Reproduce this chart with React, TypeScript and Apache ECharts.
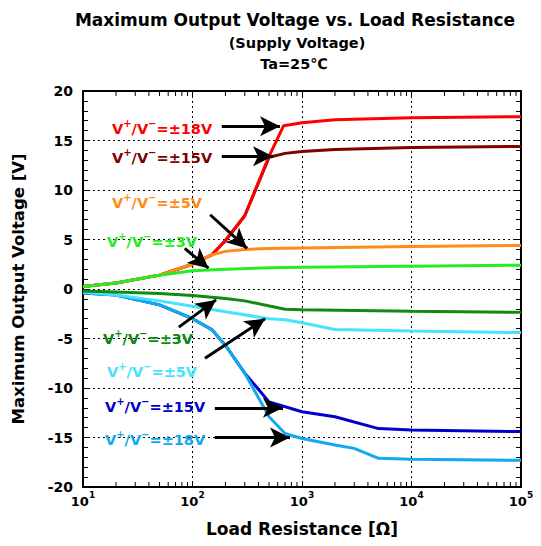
import React, { useEffect, useRef } from 'react';
import * as echarts from 'echarts';

// ---------- data ----------
const X_MIN = 10;
const X_MAX = 100000;
const Y_MIN = -20;
const Y_MAX = 20;
const Y_INTERVAL = 5;
const MINOR_MULTIPLIERS = [2, 3, 4, 5, 6, 7, 8, 9];
const MINOR_DECADES = [10, 100, 1000, 10000];

const POS_18V = [[10, 0.25], [20, 0.6], [50, 1.4], [100, 2.5], [150, 3.45], [200, 4.9], [300, 7.4], [500, 13.4], [680, 16.5], [1000, 16.8], [2000, 17.1], [10000, 17.3], [100000, 17.4]];
const POS_15V = [[10, 0.25], [20, 0.6], [50, 1.4], [100, 2.5], [150, 3.45], [200, 4.9], [300, 7.4], [500, 13.3], [700, 13.7], [1000, 13.9], [2000, 14.1], [10000, 14.3], [100000, 14.4]];
const POS_5V = [[10, 0.25], [20, 0.6], [50, 1.4], [100, 2.5], [150, 3.45], [200, 3.8], [300, 4.0], [500, 4.1], [1000, 4.15], [10000, 4.3], [100000, 4.4]];
const POS_3V = [[10, 0.25], [20, 0.6], [50, 1.4], [100, 1.85], [200, 2.0], [500, 2.15], [1000, 2.2], [10000, 2.3], [100000, 2.4]];
const NEG_3V = [[10, -0.2], [20, -0.3], [50, -0.45], [100, -0.65], [200, -0.95], [300, -1.2], [700, -2.05], [1000, -2.1], [10000, -2.25], [100000, -2.35]];
const NEG_5V = [[10, -0.3], [20, -0.6], [50, -1.2], [100, -1.75], [200, -2.3], [500, -3.0], [700, -3.1], [1000, -3.4], [2000, -4.1], [10000, -4.25], [100000, -4.4]];
const NEG_15V = [[10, -0.4], [20, -0.6], [50, -1.6], [100, -3.0], [150, -4.1], [200, -5.7], [300, -8.5], [500, -11.4], [1000, -12.4], [2000, -12.9], [5000, -14.1], [10000, -14.25], [100000, -14.4]];
const NEG_18V = [[10, -0.4], [20, -0.6], [50, -1.6], [100, -3.0], [150, -4.1], [200, -5.7], [300, -8.5], [500, -12.9], [700, -14.6], [1000, -15.1], [2000, -15.75], [3000, -16.1], [5000, -17.1], [10000, -17.2], [100000, -17.3]];

// arrows: [start, end] in data coordinates (R [ohm], V)
const ARROW_18V = [[185, 16.45], [630, 16.45]];
const ARROW_15V = [[185, 13.4], [543, 13.4]];
const ARROW_5V = [[145, 7.5], [315, 4.1]];
const ARROW_3V = [[85, 4.1], [140, 2.1]];
const ARROW_N3V = [[75, -3.85], [164, -1.1]];
const ARROW_N5V = [[130, -7.0], [460, -3.0]];
const ARROW_N15V = [[160, -12.0], [670, -12.0]];
const ARROW_N18V = [[160, -15.0], [777, -15.0]];

const LABEL_VALUES = ['±18V', '±15V', '±5V', '±3V', '±3V', '±5V', '±15V', '±18V'];

const TITLE = 'Maximum Output Voltage vs. Load Resistance';
const SUBTITLE_1 = '(Supply Voltage)';
const SUBTITLE_2 = 'Ta=25℃';
const X_NAME = 'Load Resistance [Ω]';
const Y_NAME = 'Maximum Output Voltage [V]';

// ---------- styling ----------
const FONT = '"DejaVu Sans", sans-serif';
const GRID = { left: 83, top: 91, right: 20, bottom: 59 };

const SERIES_DEFS = [
  { key: 'p15', data: POS_15V, arrow: ARROW_15V, color: '#800000', label: LABEL_VALUES[1], lx: 112, ly: 156 },
  { key: 'p18', data: POS_18V, arrow: ARROW_18V, color: '#ff0000', label: LABEL_VALUES[0], lx: 112, ly: 127 },
  { key: 'p5', data: POS_5V, arrow: ARROW_5V, color: '#ff8c1a', label: LABEL_VALUES[2], lx: 112, ly: 201 },
  { key: 'p3', data: POS_3V, arrow: ARROW_3V, color: '#22ee22', label: LABEL_VALUES[3], lx: 107, ly: 240 },
  { key: 'n15', data: NEG_15V, arrow: ARROW_N15V, color: '#0000cc', label: LABEL_VALUES[6], lx: 105, ly: 405 },
  { key: 'n18', data: NEG_18V, arrow: ARROW_N18V, color: '#11aaee', label: LABEL_VALUES[7], lx: 105, ly: 438 },
  { key: 'n5', data: NEG_5V, arrow: ARROW_N5V, color: '#44e4ff', label: LABEL_VALUES[5], lx: 107, ly: 370 },
  { key: 'n3', data: NEG_3V, arrow: ARROW_N3V, color: '#108a10', label: LABEL_VALUES[4], lx: 103, ly: 337 },
];

const MINOR_TICKS: number[] = [];
MINOR_DECADES.forEach((d) => MINOR_MULTIPLIERS.forEach((m) => MINOR_TICKS.push(d * m)));

function labelRich(color: string) {
  return {
    a: { fontSize: 14.5, fontWeight: 'bold', fontFamily: FONT, fill: color, lineHeight: 18, verticalAlign: 'bottom' },
    s: { fontSize: 10, fontWeight: 'bold', fontFamily: FONT, fill: color, lineHeight: 9, verticalAlign: 'top' },
  };
}

export default function App() {
  const ref = useRef<HTMLDivElement>(null);

  useEffect(() => {
    if (!ref.current) return;
    const chart = echarts.init(ref.current, undefined, { renderer: 'svg' });

    const axisLineStyle = { color: '#000', width: 2 };
    const gridLine = { show: true, lineStyle: { color: '#000', width: 1, type: [2, 3] as any } };

    const lineSeries = SERIES_DEFS.map((s) => ({
      type: 'line',
      name: s.key,
      data: s.data,
      xAxisIndex: 0,
      yAxisIndex: 0,
      showSymbol: false,
      symbol: 'none',
      lineStyle: { color: s.color, width: 3 },
      itemStyle: { color: s.color },
      emphasis: { disabled: true },
      z: 3,
      markLine: {
        silent: true,
        symbol: ['none', 'arrow'],
        symbolSize: [15, 20],
        label: { show: false },
        emphasis: { disabled: true },
        lineStyle: { color: '#000', width: 3, type: 'solid' },
        z: 5,
        data: [[{ coord: s.arrow[0] }, { coord: s.arrow[1] }]],
      },
    }));

    const minorTickSeries = {
      type: 'custom',
      xAxisIndex: 0,
      yAxisIndex: 0,
      silent: true,
      clip: false,
      z: 6,
      data: MINOR_TICKS.map((v) => [v, 0]),
      encode: { x: 0, y: 1 },
      renderItem: (params: any, api: any) => {
        const r = api.value(0);
        const b = api.coord([r, Y_MIN]);
        const t = api.coord([r, Y_MAX]);
        return {
          type: 'group',
          children: [
            { type: 'line', shape: { x1: b[0], y1: b[1], x2: b[0], y2: b[1] - 5 }, style: { stroke: '#000', lineWidth: 1 } },
            { type: 'line', shape: { x1: t[0], y1: t[1], x2: t[0], y2: t[1] + 5 }, style: { stroke: '#000', lineWidth: 1 } },
          ],
        };
      },
    };

    const labelGraphics = SERIES_DEFS.map((s) => ({
      type: 'text',
      x: s.lx,
      y: s.ly,
      z: 10,
      style: {
        text: `{a|V}{s|+}{a|/V}{s|−}{a|=${s.label}}`,
        verticalAlign: 'middle',
        align: 'left',
        fill: s.color,
        rich: labelRich(s.color),
      },
    }));

    const titleGraphics = [
      { type: 'text', x: 295, y: 20, style: { text: TITLE, align: 'center', verticalAlign: 'middle', fill: '#000', fontSize: 17, fontWeight: 'bold', fontFamily: FONT } },
      { type: 'text', x: 297, y: 43, style: { text: SUBTITLE_1, align: 'center', verticalAlign: 'middle', fill: '#000', fontSize: 14.5, fontWeight: 'bold', fontFamily: FONT } },
      { type: 'text', x: 294, y: 64, style: { text: SUBTITLE_2, align: 'center', verticalAlign: 'middle', fill: '#000', fontSize: 14.5, fontWeight: 'bold', fontFamily: FONT } },
    ];

    chart.setOption({
      animation: false,
      backgroundColor: '#fff',
      grid: { ...GRID, containLabel: false },
      xAxis: [
        {
          type: 'log',
          logBase: 10,
          min: X_MIN,
          max: X_MAX,
          position: 'bottom',
          axisLine: { show: true, onZero: false, lineStyle: axisLineStyle },
          axisTick: { show: true, inside: true, length: 6, lineStyle: { color: '#000', width: 1 } },
          axisLabel: {
            margin: 3,
            formatter: (v: number) => `{b|10}{s|${Math.round(Math.log10(v))}}`,
            rich: {
              b: { fontSize: 13, fontWeight: 'bold', fontFamily: FONT, color: '#000', lineHeight: 18, verticalAlign: 'bottom' },
              s: { fontSize: 9, fontWeight: 'bold', fontFamily: FONT, color: '#000', lineHeight: 9, verticalAlign: 'top' },
            },
          },
          splitLine: gridLine,
          name: X_NAME,
          nameLocation: 'middle',
          nameGap: 33,
          nameTextStyle: { fontSize: 17, fontWeight: 'bold', fontFamily: FONT, color: '#000' },
        },
        {
          type: 'log',
          logBase: 10,
          min: X_MIN,
          max: X_MAX,
          position: 'top',
          axisLine: { show: true, onZero: false, lineStyle: axisLineStyle },
          axisTick: { show: true, inside: true, length: 6, lineStyle: { color: '#000', width: 1 } },
          axisLabel: { show: false },
          splitLine: { show: false },
        },
      ],
      yAxis: [
        {
          type: 'value',
          min: Y_MIN,
          max: Y_MAX,
          interval: Y_INTERVAL,
          position: 'left',
          axisLine: { show: true, onZero: false, lineStyle: axisLineStyle },
          axisTick: { show: true, inside: true, length: 6, lineStyle: { color: '#000', width: 1 } },
          minorTick: { show: true, splitNumber: 5, length: 5, lineStyle: { color: '#000', width: 1 } },
          axisLabel: { margin: 10, fontSize: 14, fontWeight: 'bold', fontFamily: FONT, color: '#000' },
          splitLine: gridLine,
          name: Y_NAME,
          nameLocation: 'middle',
          nameGap: 56,
          nameTextStyle: { fontSize: 16.5, fontWeight: 'bold', fontFamily: FONT, color: '#000' },
        },
        {
          type: 'value',
          min: Y_MIN,
          max: Y_MAX,
          interval: Y_INTERVAL,
          position: 'right',
          axisLine: { show: true, onZero: false, lineStyle: axisLineStyle },
          axisTick: { show: true, inside: true, length: 6, lineStyle: { color: '#000', width: 1 } },
          minorTick: { show: true, splitNumber: 5, length: 5, lineStyle: { color: '#000', width: 1 } },
          axisLabel: { show: false },
          splitLine: { show: false },
        },
      ],
      series: [...lineSeries, minorTickSeries],
      graphic: [...titleGraphics, ...labelGraphics],
    } as any);

    return () => chart.dispose();
  }, []);

  return <div ref={ref} style={{ position: 'absolute', left: 0, top: 0, width: 541, height: 546 }} />;
}
